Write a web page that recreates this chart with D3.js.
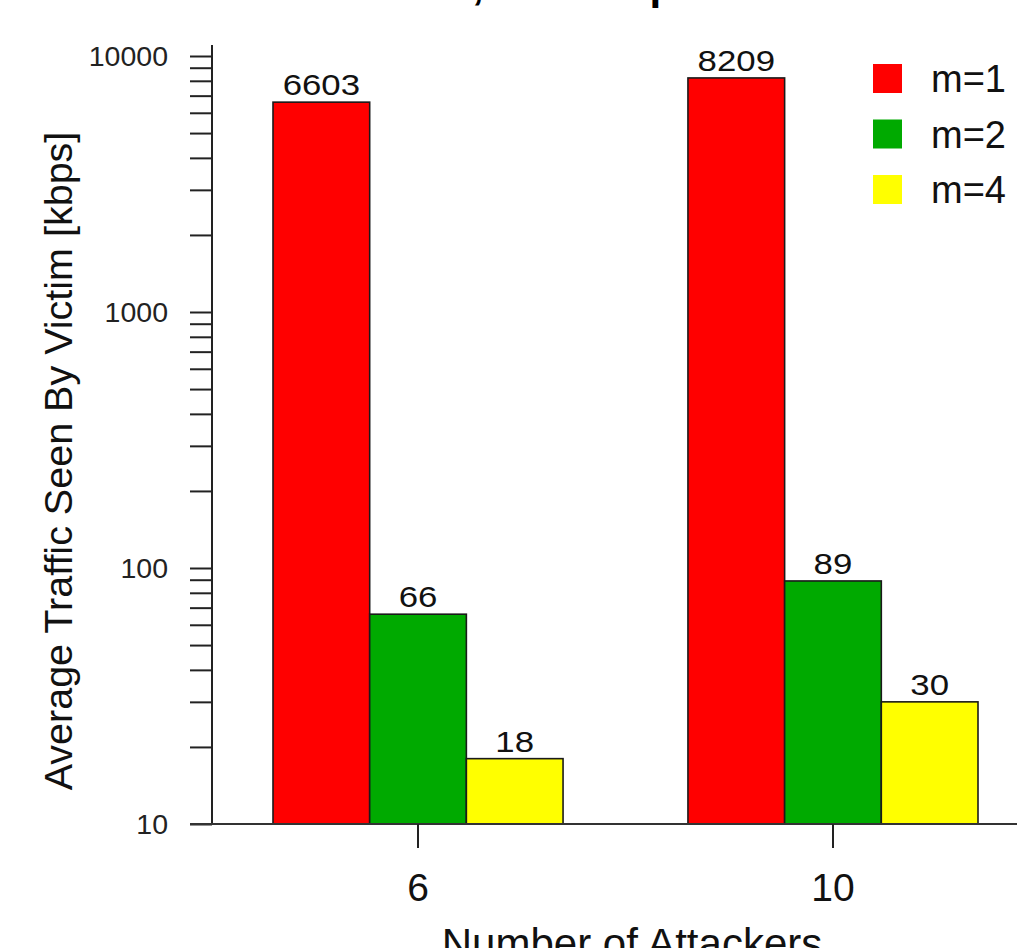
<!DOCTYPE html>
<html>
<head>
<meta charset="utf-8">
<script src="https://cdn.jsdelivr.net/npm/d3@7"></script>
<style>
  html, body { margin: 0; padding: 0; background: #fff; }
  svg { display: block; font-family: "Liberation Sans", Arial, sans-serif; }
</style>
</head>
<body>
<svg id="chart" width="1017" height="948"></svg>
<script>
// Number of attackers on the x axis
const attackers = ["6", "10"];
// Series (m values) and their colours
const seriesNames = ["m=1", "m=2", "m=4"];
const seriesColors = ["#ff0000", "#00aa00", "#ffff00"];
// Average traffic seen by victim [kbps], one array per series, ordered by attackers
const m1Values = [6603, 8209];
const m2Values = [66, 89];
const m4Values = [18, 30];
const seriesValues = [m1Values, m2Values, m4Values];
// Labelled decades on the log axis
const yMajorTicks = [10, 100, 1000, 10000];

const titleLead = "Victim Load";
const titleRest = ", 1000 kbps";

const svg = d3.select("#chart");
const W = 1017;

// Scales
const y = d3.scaleLog().domain([10, 10000]).range([824, 56]);
const x0 = d3.scaleBand().domain(attackers).range([273, 978]).paddingInner(0.301).paddingOuter(0);
const x1 = d3.scaleBand().domain(seriesNames).range([0, x0.bandwidth()]);
const color = d3.scaleOrdinal().domain(seriesNames).range(seriesColors);

const axisX = 212;
const tickLen = 22;

// Title (sits above the top edge)
const title = svg.append("text")
  .attr("y", -1)
  .attr("font-size", 42)
  .attr("font-weight", "bold")
  .attr("fill", "#000");
const lead = title.append("tspan").text(titleLead);
title.append("tspan").text(titleRest);
title.attr("x", 472 - lead.node().getComputedTextLength());

// Y axis: ticks at every 1..9 multiple of each decade
const yTicks = [];
yMajorTicks.slice(0, -1).forEach(d => { for (let k = 1; k < 10; k++) yTicks.push(d * k); });
yTicks.push(yMajorTicks[yMajorTicks.length - 1]);

const gy = svg.append("g")
  .attr("transform", `translate(${axisX},0)`)
  .call(d3.axisLeft(y)
    .tickValues(yTicks)
    .tickSize(tickLen)
    .tickPadding(22)
    .tickFormat(d => yMajorTicks.includes(d) ? String(d) : ""));
gy.select(".domain").remove();
gy.selectAll(".tick line").attr("stroke", "#222").attr("stroke-width", 2);
gy.selectAll(".tick text")
  .attr("font-size", 28.5)
  .attr("font-family", "Liberation Sans, Arial, sans-serif")
  .attr("fill", "#222");

// Y axis line, running a little past the top decade
svg.append("line")
  .attr("x1", axisX).attr("x2", axisX)
  .attr("y1", y.range()[0]).attr("y2", y.range()[1] - 11)
  .attr("stroke", "#222").attr("stroke-width", 2);

// Bars
const groups = svg.append("g").selectAll("g")
  .data(attackers)
  .join("g")
  .attr("transform", d => `translate(${x0(d)},0)`);

groups.selectAll("rect")
  .data((d, i) => seriesNames.map((s, j) => ({ s, v: seriesValues[j][i] })))
  .join("rect")
  .attr("x", d => x1(d.s))
  .attr("y", d => y(d.v))
  .attr("width", x1.bandwidth())
  .attr("height", d => y(10) - y(d.v))
  .attr("fill", d => color(d.s))
  .attr("stroke", "#1a1a1a")
  .attr("stroke-width", 1.6);

// Value labels above bars
groups.selectAll("g.lbl")
  .data((d, i) => seriesNames.map((s, j) => ({ s, v: seriesValues[j][i] })))
  .join("g")
  .attr("class", "lbl")
  .attr("transform", d => `translate(${x1(d.s) + x1.bandwidth() / 2},${y(d.v) - 7})`)
  .append("text")
  .attr("transform", "scale(1.2,1)")
  .attr("text-anchor", "middle")
  .attr("font-size", 29)
  .attr("fill", "#111")
  .text(d => d.v);

// X axis baseline
svg.append("line")
  .attr("x1", axisX - tickLen).attr("x2", W)
  .attr("y1", y(10)).attr("y2", y(10))
  .attr("stroke", "#333").attr("stroke-width", 2);

const gx = svg.append("g")
  .attr("transform", `translate(0,${y(10)})`)
  .call(d3.axisBottom(x0).tickSize(24).tickPadding(25));
gx.select(".domain").remove();
gx.selectAll(".tick line").attr("stroke", "#222").attr("stroke-width", 2);
gx.selectAll(".tick text")
  .attr("font-size", 39)
  .attr("font-family", "Liberation Sans, Arial, sans-serif")
  .attr("fill", "#111");

// Axis titles
svg.append("text")
  .attr("x", 632).attr("y", 958)
  .attr("text-anchor", "middle")
  .attr("font-size", 42)
  .attr("fill", "#111")
  .text("Number of Attackers");

svg.append("text")
  .attr("transform", "translate(72,461) rotate(-90)")
  .attr("text-anchor", "middle")
  .attr("font-size", 39.5)
  .attr("fill", "#111")
  .text("Average Traffic Seen By Victim [kbps]");

// Legend
const legend = svg.append("g").selectAll("g")
  .data(seriesNames)
  .join("g")
  .attr("transform", (d, i) => `translate(873,${64 + i * 55.5})`);
legend.append("rect")
  .attr("width", 29).attr("height", 29)
  .attr("fill", d => color(d));
legend.append("text")
  .attr("x", 58).attr("y", 28)
  .attr("font-size", 38)
  .attr("fill", "#111")
  .text(d => d);
</script>
</body>
</html>
